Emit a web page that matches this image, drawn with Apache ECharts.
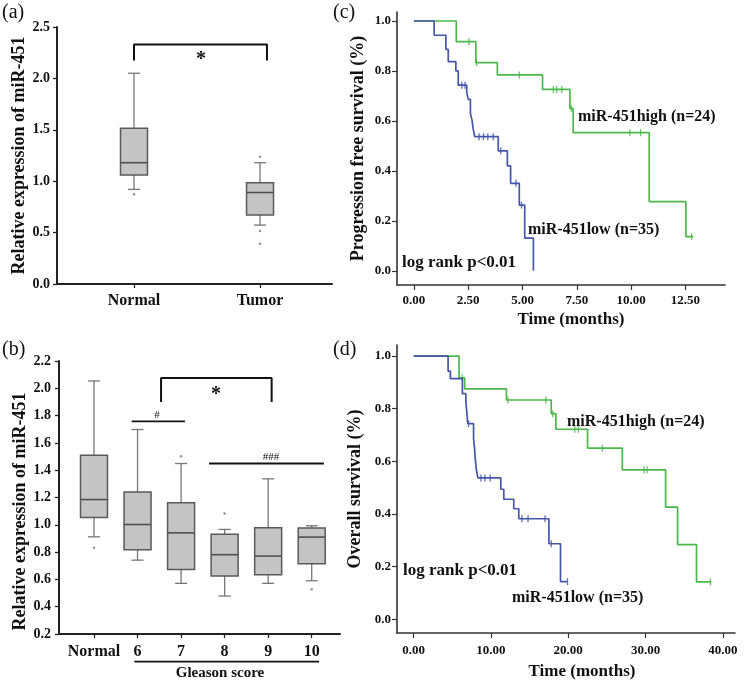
<!DOCTYPE html>
<html><head><meta charset="utf-8">
<script src="https://cdn.jsdelivr.net/npm/echarts@6/dist/echarts.min.js"></script>
<style>html,body{margin:0;padding:0;background:#fff}#c{width:751px;height:686px}</style>
</head><body><div id="c"></div><script>
// ---------- data ----------
const categoriesA = ['Normal', 'Tumor'];
// [min, Q1, median, Q3, max]
const boxStatsA = [[0.92, 1.06, 1.18, 1.515, 2.05], [0.573, 0.67, 0.89, 0.984, 1.18]];
const outliersA = [[1, 0.874], [2, 1.237], [2, 0.515], [2, 0.392]];
const bracketA = [[1, 2.175], [1, 2.33], [2.055, 2.33], [2.055, 2.175]];

const categoriesB = ['Normal', '6', '7', '8', '9', '10'];
const boxStatsB = [
  [0.912, 1.054, 1.185, 1.51, 2.054],
  [0.741, 0.817, 1.002, 1.241, 1.698],
  [0.571, 0.673, 0.941, 1.161, 1.449],
  [0.478, 0.625, 0.781, 0.93, 0.966],
  [0.571, 0.634, 0.771, 0.978, 1.337],
  [0.59, 0.715, 0.91, 0.976, 0.993]
];
const outliersB = [[1, 0.832], [3, 1.502], [4, 1.083], [6, 0.527]];
const bracketB = [[2.54, 1.9], [2.54, 2.076], [5.08, 2.076], [5.08, 1.9]];
const hashLineB = [[1.866, 1.758], [3.09, 1.758]];
const hash3LineB = [[3.641, 1.449], [6.28, 1.449]];
const gleasonLineB = [[1.926, -0.003], [6.17, -0.003]];

const survTicks = [0, 0.2, 0.4, 0.6, 0.8, 1.0];
const pfsTicks = [0, 2.5, 5, 7.5, 10, 12.5];
const osTicks = [0, 10, 20, 30, 40];

const pfsHigh = [[0, 1], [1.95, 0.917], [2.85, 0.833], [3.84, 0.784], [5.92, 0.726], [7.18, 0.65], [7.33, 0.553], [10.83, 0.277], [12.52, 0.137], [12.86, 0.137]];
const pfsHighCensor = [[2.53, 0.917], [2.88, 0.833], [4.85, 0.784], [6.42, 0.726], [6.57, 0.726], [6.8, 0.726], [7.24, 0.65], [9.94, 0.553], [10.44, 0.553], [12.78, 0.137]];
const pfsLow = [[0, 1], [0.93, 0.943], [1.47, 0.886], [1.58, 0.837], [1.93, 0.80], [2.04, 0.743], [2.43, 0.714], [2.5, 0.686], [2.6, 0.629], [2.68, 0.60], [2.72, 0.571], [2.8, 0.537], [3.88, 0.48], [4.3, 0.42], [4.45, 0.35], [4.85, 0.263], [5.1, 0.131], [5.5, 0]];
const pfsLowCensor = [[2.2, 0.743], [2.35, 0.743], [3.0, 0.537], [3.2, 0.537], [3.4, 0.537], [3.65, 0.537], [4.0, 0.48], [4.7, 0.35], [4.95, 0.263]];

const osHigh = [[0, 1], [5.87, 0.917], [6.6, 0.875], [12.0, 0.833], [17.8, 0.781], [18.4, 0.722], [22.5, 0.65], [27.0, 0.568], [32.6, 0.426], [34.15, 0.284], [36.6, 0.142], [38.5, 0.142]];
const osHighCensor = [[6.3, 0.917], [12.2, 0.833], [17.1, 0.833], [18.0, 0.781], [20.85, 0.722], [21.3, 0.722], [24.4, 0.65], [29.8, 0.568], [30.2, 0.568], [38.4, 0.142]];
const osLow = [[0, 1], [4.45, 0.943], [4.75, 0.914], [6.3, 0.857], [6.75, 0.829], [7.0, 0.743], [7.75, 0.686], [7.85, 0.657], [8.0, 0.60], [8.1, 0.571], [8.3, 0.537], [11.27, 0.494], [11.66, 0.456], [12.95, 0.42], [13.6, 0.382], [17.5, 0.287], [19.0, 0.143], [19.9, 0.143]];
const osLowCensor = [[7.1, 0.743], [8.7, 0.537], [9.2, 0.537], [9.9, 0.537], [14.0, 0.382], [14.8, 0.382], [17.0, 0.382], [17.8, 0.287], [19.9, 0.143]];

// ---------- styles ----------
const SERIF = '"Liberation Serif", "Times New Roman", serif';
const GREEN = '#4cb84c';
const BLUE = '#4656a8';
const INK = '#111';

function boxRender(params, api) {
  const x = api.value(0);
  const lo = api.coord([x, api.value(1)]);
  const q1 = api.coord([x, api.value(2)]);
  const md = api.coord([x, api.value(3)]);
  const q3 = api.coord([x, api.value(4)]);
  const hi = api.coord([x, api.value(5)]);
  const bw = 27, cw = 12, cx = lo[0];
  const wl = { stroke: '#777', lineWidth: 1.3 };
  return {
    type: 'group', children: [
      { type: 'line', shape: { x1: cx, y1: hi[1], x2: cx, y2: q3[1] }, style: wl },
      { type: 'line', shape: { x1: cx, y1: q1[1], x2: cx, y2: lo[1] }, style: wl },
      { type: 'line', shape: { x1: cx - cw / 2, y1: hi[1], x2: cx + cw / 2, y2: hi[1] }, style: wl },
      { type: 'line', shape: { x1: cx - cw / 2, y1: lo[1], x2: cx + cw / 2, y2: lo[1] }, style: wl },
      { type: 'rect', shape: { x: cx - bw / 2, y: q3[1], width: bw, height: q1[1] - q3[1] }, style: { fill: '#c4c4c4', stroke: '#5a5a5a', lineWidth: 1.5 } },
      { type: 'line', shape: { x1: cx - bw / 2, y1: md[1], x2: cx + bw / 2, y2: md[1] }, style: { stroke: '#505050', lineWidth: 1.6 } }
    ]
  };
}

const NAME = { fontFamily: SERIF, fontWeight: 'bold', fontSize: 18, color: INK };

function valAxis(grid, min, max, extra) {
  return Object.assign({
    gridIndex: grid, type: 'value', min: min, max: max,
    splitLine: { show: false },
    axisLine: { show: true, onZero: false, lineStyle: { color: '#222', width: 2 } },
    axisTick: { show: true, length: 4, lineStyle: { color: '#222', width: 1.3 } },
    axisLabel: { fontFamily: SERIF, fontWeight: 'bold', fontSize: 14, color: INK },
    nameTextStyle: NAME
  }, extra);
}

const xAxes = [
  valAxis(0, 0.389, 2.571, {
    axisTick: { show: true, length: 4, customValues: [1, 2], lineStyle: { color: '#222', width: 1.3 } },
    axisLabel: { customValues: [1, 2], margin: 9, formatter: v => categoriesA[Math.round(v) - 1], fontFamily: SERIF, fontWeight: 'bold', fontSize: 16, color: INK }
  }),
  valAxis(1, 0.196, 6.65, {
    axisTick: { show: true, length: 4, customValues: [1, 2, 3, 4, 5, 6], lineStyle: { color: '#222', width: 1.3 } },
    axisLabel: { customValues: [1, 2, 3, 4, 5, 6], margin: 10, formatter: v => categoriesB[Math.round(v) - 1], fontFamily: SERIF, fontWeight: 'bold', fontSize: 16, color: INK }
  }),
  valAxis(2, -0.78, 14.32, {
    name: 'Time (months)', nameLocation: 'middle', nameGap: 26,
    nameTextStyle: { fontFamily: SERIF, fontWeight: 'bold', fontSize: 17, color: INK, padding: [0, 0, 0, 20] },
    axisLine: { show: true, onZero: false, lineStyle: { color: '#333', width: 1.6 } },
    axisTick: { show: true, length: 5, customValues: pfsTicks, lineStyle: { color: '#333', width: 1.2 } },
    axisLabel: { customValues: pfsTicks, margin: 9, formatter: v => v.toFixed(2), fontFamily: SERIF, fontWeight: 'bold', fontSize: 13, color: INK }
  }),
  valAxis(3, -2.16, 41.58, {
    name: 'Time (months)', nameLocation: 'middle', nameGap: 30,
    nameTextStyle: { fontFamily: SERIF, fontWeight: 'bold', fontSize: 17, color: INK, padding: [0, 0, 0, 32] },
    axisLine: { show: true, onZero: false, lineStyle: { color: '#333', width: 1.6 } },
    axisTick: { show: true, length: 5, customValues: osTicks, lineStyle: { color: '#333', width: 1.2 } },
    axisLabel: { customValues: osTicks, margin: 11, formatter: v => v.toFixed(2), fontFamily: SERIF, fontWeight: 'bold', fontSize: 13, color: INK }
  })
];

const yAxes = [
  valAxis(0, 0, 2.5, {
    interval: 0.5, name: 'Relative expression of miR-451', nameLocation: 'middle', nameRotate: 90, nameGap: 22,
    axisLabel: { margin: 7, formatter: v => v.toFixed(1), fontFamily: SERIF, fontWeight: 'bold', fontSize: 14, color: INK }
  }),
  valAxis(1, 0.2, 2.2, {
    interval: 0.2, name: 'Relative expression of miR-451', nameLocation: 'middle', nameRotate: 90, nameGap: 24,
    nameTextStyle: Object.assign({}, NAME, { padding: [0, 28, 0, 0] }),
    axisLabel: { margin: 8, formatter: v => v.toFixed(1), fontFamily: SERIF, fontWeight: 'bold', fontSize: 14, color: INK }
  }),
  valAxis(2, -0.057, 1.036, {
    name: 'Progression free survival (%)', nameLocation: 'middle', nameRotate: 90, nameGap: 30,
    axisLine: { show: true, onZero: false, lineStyle: { color: '#333', width: 1.6 } },
    axisTick: { show: true, length: 5, customValues: survTicks, lineStyle: { color: '#333', width: 1.2 } },
    axisLabel: { customValues: survTicks, margin: 6, formatter: v => v.toFixed(1), fontFamily: SERIF, fontWeight: 'bold', fontSize: 13, color: INK }
  }),
  valAxis(3, -0.052, 1.042, {
    name: 'Overall survival (%)', nameLocation: 'middle', nameRotate: 90, nameGap: 33,
    axisLine: { show: true, onZero: false, lineStyle: { color: '#333', width: 1.6 } },
    axisTick: { show: true, length: 5, customValues: survTicks, lineStyle: { color: '#333', width: 1.2 } },
    axisLabel: { customValues: survTicks, margin: 6, formatter: v => v.toFixed(1), fontFamily: SERIF, fontWeight: 'bold', fontSize: 13, color: INK }
  })
];

function annLine(ax, data, width) {
  return { type: 'line', xAxisIndex: ax, yAxisIndex: ax, data: data, symbol: 'none', silent: true, clip: false,
    lineStyle: { color: INK, width: width }, z: 5 };
}
function km(ax, data, color) {
  return { type: 'line', xAxisIndex: ax, yAxisIndex: ax, data: data, step: 'end', symbol: 'none', showSymbol: false,
    lineStyle: { color: color, width: 1.7 }, itemStyle: { color: color }, silent: true };
}
function censor(ax, data, color) {
  return { type: 'scatter', xAxisIndex: ax, yAxisIndex: ax, data: data, symbol: 'rect', symbolSize: [1.4, 7],
    itemStyle: { color: color }, silent: true };
}
function outl(ax, data) {
  return { type: 'scatter', xAxisIndex: ax, yAxisIndex: ax, data: data, symbol: 'circle', symbolSize: 2.5,
    itemStyle: { color: '#777' }, silent: true };
}

const textStyle = (t, x, y, font, align, valign) => ({
  type: 'text', style: { text: t, x: x, y: y, font: font, fill: INK, textAlign: align || 'left', textVerticalAlign: valign || 'middle' }, silent: true
});
const B = (s) => 'bold ' + s + 'px ' + SERIF;
const R = (s) => s + 'px ' + SERIF;

const option = {
  animation: false,
  backgroundColor: '#fff',
  grid: [
    { left: 57, top: 27, width: 275, height: 257 },
    { left: 59, top: 361, width: 281, height: 273 },
    { left: 397, top: 12, width: 328, height: 273 },
    { left: 397, top: 345, width: 338, height: 288 }
  ],
  xAxis: xAxes,
  yAxis: yAxes,
  series: [
    { type: 'custom', xAxisIndex: 0, yAxisIndex: 0, renderItem: boxRender, encode: { x: 0, y: [1, 2, 3, 4, 5] },
      data: boxStatsA.map((b, i) => [i + 1].concat(b)), silent: true },
    outl(0, outliersA),
    annLine(0, bracketA, 2),
    { type: 'custom', xAxisIndex: 1, yAxisIndex: 1, renderItem: boxRender, encode: { x: 0, y: [1, 2, 3, 4, 5] },
      data: boxStatsB.map((b, i) => [i + 1].concat(b)), silent: true },
    outl(1, outliersB),
    annLine(1, bracketB, 2),
    annLine(1, hashLineB, 1.8),
    annLine(1, hash3LineB, 1.8),
    annLine(1, gleasonLineB, 1.8),
    km(2, pfsHigh, GREEN), censor(2, pfsHighCensor, GREEN),
    km(2, pfsLow, BLUE), censor(2, pfsLowCensor, BLUE),
    km(3, osHigh, GREEN), censor(3, osHighCensor, GREEN),
    km(3, osLow, BLUE), censor(3, osLowCensor, BLUE)
  ],
  graphic: [
    textStyle('(a)', 2, 13, R(20)),
    textStyle('(b)', 2, 350, R(20)),
    textStyle('(c)', 333, 13, R(20)),
    textStyle('(d)', 333, 350, R(20)),
    textStyle('*', 201, 60, B(20), 'center'),
    textStyle('*', 216, 395, B(20), 'center'),
    textStyle('#', 157, 415, R(11), 'center'),
    textStyle('###', 271, 457, R(11), 'center'),
    textStyle('Gleason score', 220, 673, B(15), 'center'),
    textStyle('miR-451high (n=24)', 578, 117, B(16)),
    textStyle('miR-451low (n=35)', 528, 230, B(16)),
    textStyle('log rank p<0.01', 402, 263, B(17)),
    textStyle('miR-451high (n=24)', 567, 422, B(16)),
    textStyle('miR-451low (n=35)', 512, 598, B(16)),
    textStyle('log rank p<0.01', 403, 571, B(17))
  ]
};
const chart = echarts.init(document.getElementById('c'), null, { renderer: 'canvas' });
chart.setOption(option);
</script></body></html>
